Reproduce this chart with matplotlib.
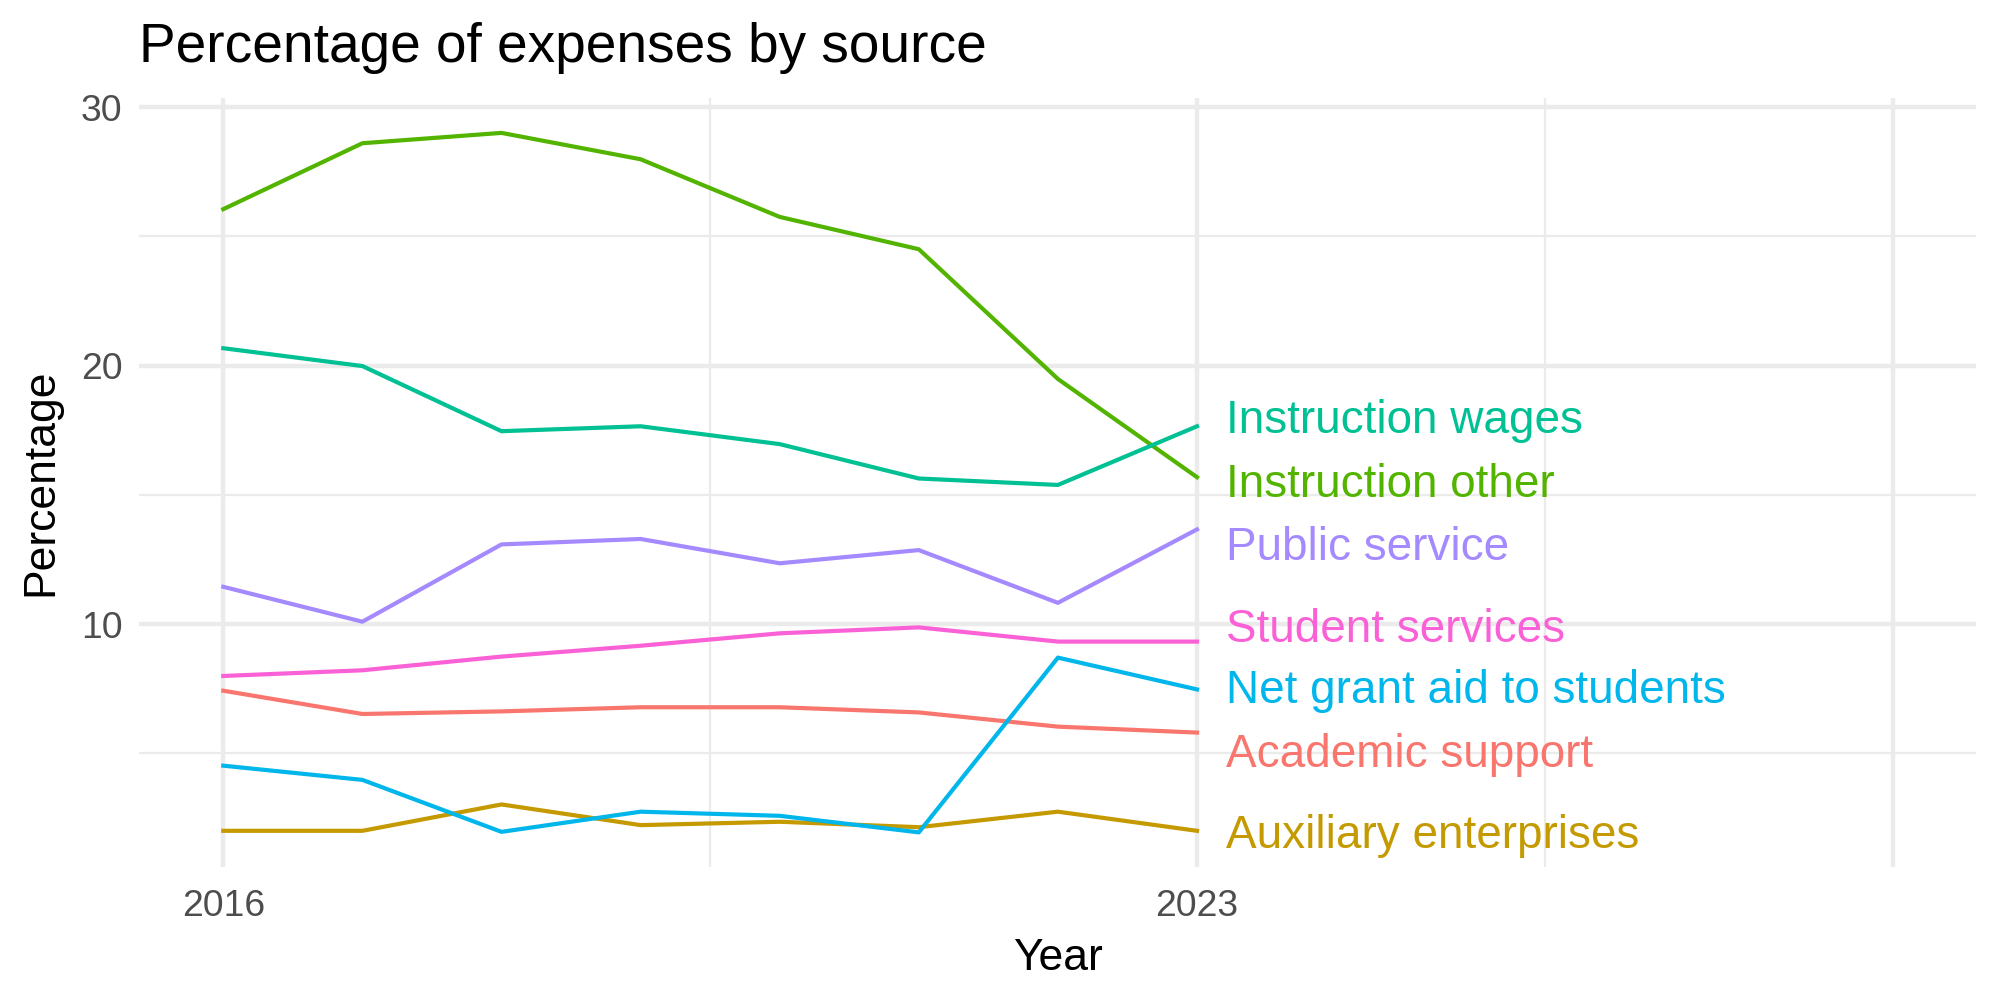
import matplotlib.pyplot as plt
from matplotlib.ticker import FixedLocator

years = [2016, 2017, 2018, 2019, 2020, 2021, 2022, 2023]

academic_support = [7.42, 6.52, 6.62, 6.78, 6.78, 6.58, 6.03, 5.80]
auxiliary_enterprises = [2.00, 2.00, 3.02, 2.22, 2.35, 2.14, 2.74, 2.00]
instruction_other = [26.05, 28.6, 29.0, 27.98, 25.75, 24.5, 19.48, 15.68]
instruction_wages = [20.67, 19.98, 17.46, 17.65, 16.96, 15.63, 15.38, 17.65]
net_grant_aid = [4.52, 3.97, 1.96, 2.74, 2.58, 1.94, 8.70, 7.47]
public_service = [11.44, 10.09, 13.08, 13.29, 12.35, 12.86, 10.82, 13.66]
student_services = [7.99, 8.21, 8.74, 9.16, 9.64, 9.87, 9.32, 9.32]

names = ["Academic support", "Auxiliary enterprises", "Instruction other",
         "Instruction wages", "Net grant aid to students", "Public service",
         "Student services"]
series = [academic_support, auxiliary_enterprises, instruction_other,
          instruction_wages, net_grant_aid, public_service, student_services]
colors = ["#F8766D", "#C49A00", "#53B400", "#00C094", "#00B6EB", "#A58AFF", "#FB61D7"]

# repelled label baselines
label_y = [4.48, 1.32, 14.91, 17.40, 6.93, 12.48, 9.32]

plt.rcParams['font.family'] = ['Liberation Sans', 'DejaVu Sans']

fig = plt.figure(figsize=(10, 5), dpi=200)
ax = fig.add_axes([0.0695, 0.133, 0.9185, 0.769])

for name, vals, col, ly in zip(names, series, colors, label_y):
    ax.plot(years, vals, color=col, lw=1.5, zorder=3)
    ax.text(2023.21, ly, name, color=col, fontsize=16.5, va="baseline", ha="left", zorder=4)

ax.set_xlim(2015.394, 2028.6)
ax.set_ylim(0.6, 30.35)

ax.xaxis.set_major_locator(FixedLocator([2016, 2023, 2028]))
ax.set_xticklabels(["2016", "2023", ""])
ax.xaxis.set_minor_locator(FixedLocator([2019.5, 2025.5]))
ax.yaxis.set_major_locator(FixedLocator([10, 20, 30]))
ax.yaxis.set_minor_locator(FixedLocator([5, 15, 25]))

ax.grid(which="major", color="#EBEBEB", lw=1.6, zorder=0)
ax.grid(which="minor", color="#EBEBEB", lw=0.8, zorder=0)
ax.tick_params(which="both", length=0, labelsize=13.4, labelcolor="#4D4D4D")
ax.tick_params(axis="x", pad=8)
ax.tick_params(axis="y", pad=6)
for s in ax.spines.values():
    s.set_visible(False)

ax.set_xlabel("Year", fontsize=16, labelpad=5)
ax.set_ylabel("Percentage", fontsize=16, labelpad=7)
ax.set_title("Percentage of expenses by source", fontsize=19.8, loc="left", pad=13)

fig.savefig("out.png", dpi=200, facecolor="white")
